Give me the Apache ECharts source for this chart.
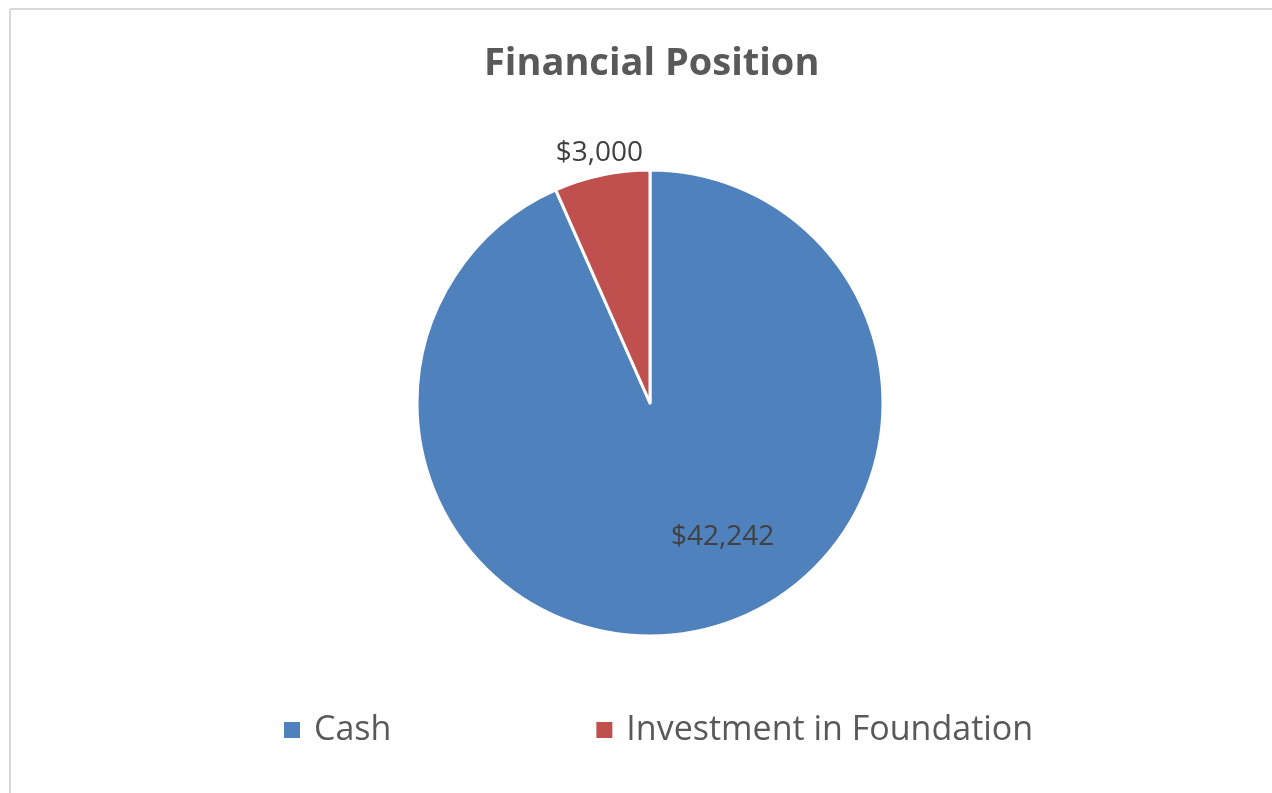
<!DOCTYPE html>
<html>
<head>
<meta charset="utf-8">
<script src="https://cdn.jsdelivr.net/npm/echarts@6/dist/echarts.min.js"></script>
<style>
  html, body { margin: 0; padding: 0; background: #fff; }
  #chart { width: 1272px; height: 793px; }
</style>
</head>
<body>
<div id="chart"></div>
<script>
var categories = ['Cash', 'Investment in Foundation'];
var values = [42242, 3000];
var colors = ['#4f81bd', '#c0504d'];

function money(v) {
    return '$' + v.toLocaleString('en-US');
}

// label nudges so they sit where the original puts them
var labelShift = [[48, 17], [-26, -133]];

var chart = echarts.init(document.getElementById('chart'));
var option = {
    animation: false,
    title: {
        text: 'Financial Position',
        left: 479,
        top: 40,
        textStyle: {
            fontFamily: 'Open Sans',
            fontSize: 38,
            fontWeight: 'bold',
            color: '#595959'
        }
    },
    legend: {
        left: 277,
        top: 708,
        itemWidth: 18,
        itemHeight: 18,
        itemGap: 203,
        icon: 'rect',
        textStyle: {
            fontFamily: 'Open Sans',
            fontSize: 34,
            color: '#595959',
            padding: [0, 0, 0, 8]
        },
        data: categories
    },
    graphic: [
        { type: 'line', shape: { x1: 10, y1: 9, x2: 1272, y2: 9 }, style: { stroke: '#d9d9d9', lineWidth: 2 } },
        { type: 'line', shape: { x1: 10, y1: 9, x2: 10, y2: 793 }, style: { stroke: '#d9d9d9', lineWidth: 2 } }
    ],
    series: [
        {
            type: 'pie',
            center: [650, 403],
            radius: 233,
            startAngle: 90,
            clockwise: true,
            avoidLabelOverlap: false,
            itemStyle: { borderColor: '#fff', borderWidth: 3 },
            label: {
                position: 'inside',
                fontFamily: 'Open Sans',
                fontSize: 28,
                color: '#404040',
                formatter: function (p) { return money(p.value); }
            },
            labelLine: { show: false },
            labelLayout: function (p) {
                var s = labelShift[p.dataIndex];
                return { dx: s[0], dy: s[1] };
            },
            emphasis: { disabled: true },
            data: categories.map(function (c, i) {
                return { name: c, value: values[i], itemStyle: { color: colors[i] } };
            })
        }
    ]
};
chart.setOption(option);
</script>
</body>
</html>
